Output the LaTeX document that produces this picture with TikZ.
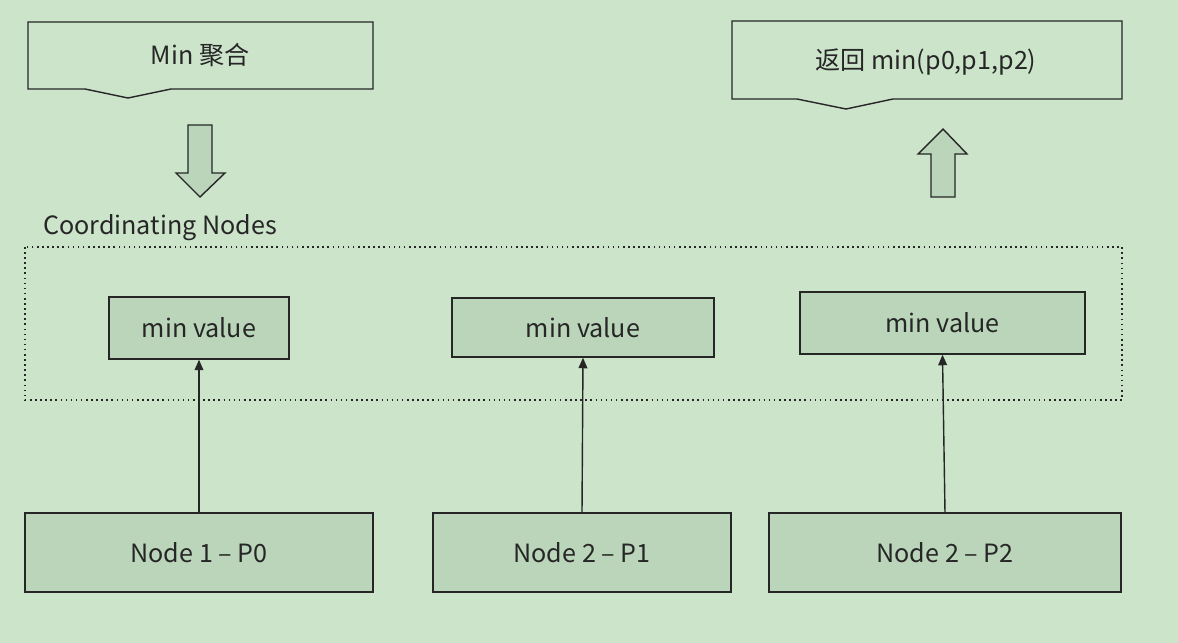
\documentclass[tikz,border=0pt]{standalone}
\usepackage{fontspec}
\setmainfont{Noto Sans CJK SC}
\usetikzlibrary{positioning}
\usetikzlibrary{calc, arrows.meta}
\definecolor{bggreen}{RGB}{204,228,202}
\definecolor{boxgreen}{RGB}{186,213,185}
\definecolor{edgegray}{RGB}{38,38,38}

\begin{document}
\begin{tikzpicture}[x=0.02cm, y=-0.02cm,
                greenbox/.style={rectangle, draw=edgegray, fill=boxgreen, line width=0.8pt, inner sep=0pt, text=edgegray, font=\fontsize{14.3}{17}\selectfont},
                docshape/.style={draw=edgegray, fill=bggreen, line width=0.8pt},
                fatarrow/.style={draw=edgegray, fill=boxgreen, line width=0.8pt},
                plaintext/.style={text=edgegray, font=\fontsize{14.3}{17}\selectfont},
                ]

                \fill[bggreen] (0,0) rectangle (1178,643);
                \useasboundingbox (0,0) rectangle (1178,643);

                \draw[docshape] (28,22) -- (373,22) -- (373,89) -- (171,89) -- (128,98) -- (85,89) -- (28,89) -- cycle;
                \node[plaintext] (agg) at (200,55) {Min 聚合};
                \draw[docshape] (732,21) -- (1122,21) -- (1122,99) -- (893,99) -- (846,109) -- (797,99) -- (732,99) -- cycle;
                \node[plaintext] (ret) at (926,62) {返回 min(p0,p1,p2)};

                \draw[fatarrow] (188,125) -- (212,125) -- (212,173) -- (225,173) -- (200,197) -- (176,173) -- (188,173) -- cycle;
                \draw[fatarrow] (931,197) -- (955,197) -- (955,154) -- (967,154) -- (943,129) -- (918,154) -- (931,154) -- cycle;

                \node[plaintext, anchor=west] (coord) at (37,228) {Coordinating Nodes};
                \draw[edgegray, line width=0.9pt, dotted] (25,247) rectangle (1122,400);

                \node[greenbox, minimum width=3.6cm, minimum height=1.24cm] (min1) at (199,328) {min value};
                \node[greenbox, minimum width=5.24cm, minimum height=1.18cm] (min2) at (583,327.5) {min value};
                \node[greenbox, minimum width=5.7cm, minimum height=1.24cm] (min3) at (942.5,323) {min value};

                \node[greenbox, minimum width=6.96cm, minimum height=1.58cm] (n1) at (199,552.5) {Node 1 -- P0};
                \node[greenbox, minimum width=5.96cm, minimum height=1.58cm] (n2) at (582,552.5) {Node 2 -- P1};
                \node[greenbox, minimum width=7.04cm, minimum height=1.58cm] (n3) at (945,552.5) {Node 2 -- P2};

                \draw[-{Triangle[length=6pt, width=5pt]}, edgegray, line width=0.8pt] (n1.north) -- (min1.south);
                \draw[-{Triangle[length=6pt, width=5pt]}, edgegray, line width=0.8pt] (n2.north) -- (min2.south);
                \draw[-{Triangle[length=6pt, width=5pt]}, edgegray, line width=0.8pt] (n3.north) -- (min3.south);
            \end{tikzpicture}
\end{document}
